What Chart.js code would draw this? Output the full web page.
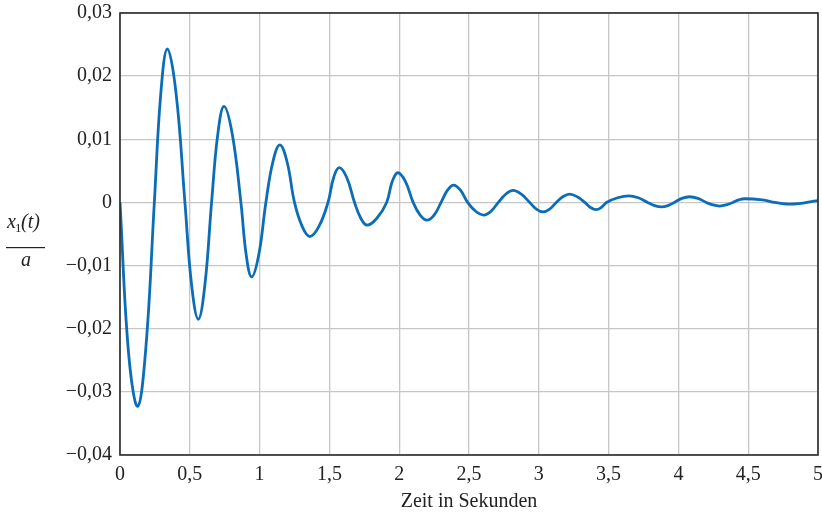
<!DOCTYPE html>
<html>
<head>
<meta charset="utf-8">
<script src="https://cdn.jsdelivr.net/npm/chart.js@4.4.1/dist/chart.umd.min.js"></script>
<style>
  html, body { margin:0; padding:0; background:#fff; }
  #wrap { width:822px; height:515px; position:relative; }
</style>
</head>
<body>
<div id="wrap"><canvas id="c" width="822" height="515"></canvas></div>
<script>
// Zeitpunkte (s) und Werte x1(t)/a
const times = [
  0, 0.062, 0.127, 0.186, 0.246, 0.292, 0.339, 0.402, 0.465, 0.513,
  0.561, 0.608, 0.656, 0.700, 0.745, 0.805, 0.866, 0.904, 0.943, 0.994,
  1.045, 1.095, 1.145, 1.197, 1.25, 1.305, 1.36, 1.425, 1.49, 1.53,
  1.57, 1.625, 1.68, 1.725, 1.77, 1.84, 1.91, 1.95, 1.99, 2.045,
  2.10, 2.15, 2.20, 2.25, 2.30, 2.345, 2.39, 2.44, 2.49, 2.5475,
  2.605, 2.6575, 2.71, 2.7625, 2.815, 2.875, 2.935, 2.9825, 3.03, 3.0775,
  3.125, 3.1725, 3.22, 3.275, 3.33, 3.37, 3.41, 3.4475, 3.485, 3.565,
  3.645, 3.7125, 3.78, 3.83, 3.88, 3.925, 3.97, 4.025, 4.08, 4.14,
  4.20, 4.2475, 4.295, 4.3425, 4.39, 4.4325, 4.475, 4.60, 4.69, 4.745,
  4.80, 4.86, 4.92, 5.0
];
const values = [
  0, -0.024, -0.0323, -0.0228, 0, 0.0172, 0.0243, 0.0172, 0, -0.0131,
  -0.0185, -0.0131, 0, 0.0107, 0.0152, 0.0107, 0, -0.0083, -0.0118, -0.0083,
  0, 0.0064, 0.0091, 0.0064, 0, -0.0038, -0.0054, -0.0038, 0, 0.0039,
  0.0055, 0.0039, 0, -0.0025, -0.0036, -0.0025, 0, 0.0033, 0.0047, 0.0033,
  0, -0.002, -0.0028, -0.002, 0, 0.0019, 0.00275, 0.0019, 0, -0.0014,
  -0.002, -0.0014, 0, 0.0013, 0.0019, 0.0013, 0, -0.00105, -0.0015, -0.00105,
  0, 0.0009, 0.0013, 0.0009, 0, -0.0008, -0.00115, -0.0008, 0, 0.00074,
  0.00105, 0.00074, 0, -0.0005, -0.0007, -0.0005, 0, 0.00064, 0.0009, 0.00064,
  0, -0.0004, -0.00057, -0.0004, 0, 0.0004, 0.00058, 0.0004, 0, -0.0002,
  -0.00028, -0.0002, 0, 0.0003
];
const xTickLabels = ['0','0,5','1','1,5','2','2,5','3','3,5','4','4,5','5'];
const yTickLabels = ['\u22120,04','\u22120,03','\u22120,02','\u22120,01','0','0,01','0,02','0,03'];

const serif = 'Liberation Serif';
const ink = '#222';

// Rahmen + Bruch als y-Beschriftung
const frameAndLabel = {
  id: 'frameAndLabel',
  afterDatasetsDraw(chart) {
    const { ctx, chartArea: a } = chart;
    ctx.save();
    ctx.strokeStyle = '#2a2a2a';
    ctx.lineWidth = 1.6;
    ctx.strokeRect(a.left, a.top, a.right - a.left, a.bottom - a.top);

    ctx.fillStyle = ink;
    ctx.textBaseline = 'alphabetic';
    ctx.textAlign = 'left';
    ctx.font = 'italic 20px "' + serif + '"';
    ctx.fillText('x', 7, 228);
    ctx.font = '13px "' + serif + '"';
    ctx.fillText('1', 15, 232);
    ctx.font = 'italic 20px "' + serif + '"';
    ctx.fillText('(t)', 21, 228);
    ctx.fillRect(6, 247, 39, 1.2);
    ctx.textAlign = 'center';
    ctx.fillText('a', 26, 266);
    ctx.restore();
  }
};

new Chart(document.getElementById('c'), {
  type: 'line',
  data: {
    datasets: [{
      data: times.map((t, i) => ({ x: t, y: values[i] })),
      borderColor: '#0b6db6',
      borderWidth: 2.8,
      pointRadius: 0,
      tension: 0.4,
      fill: false
    }]
  },
  options: {
    responsive: false,
    animation: false,
    layout: { padding: { left: 0, right: 4, top: 13, bottom: 0 } },
    plugins: { legend: { display: false }, tooltip: { enabled: false } },
    scales: {
      x: {
        type: 'linear', min: 0, max: 5,
        ticks: { stepSize: 0.5, padding: 8, color: ink, maxRotation: 0,
                 font: { family: serif, size: 20 },
                 callback: (v, i) => xTickLabels[i] },
        grid: { color: '#c6c6c6', lineWidth: 1.3, drawTicks: false },
        border: { display: false },
        title: { display: true, text: 'Zeit in Sekunden', color: ink,
                 font: { family: serif, size: 20 }, padding: { top: 0, bottom: 1 } },
        afterFit: s => { s.height = 60; s.paddingLeft = 0; s.paddingRight = 0; }
      },
      y: {
        type: 'linear', min: -0.04, max: 0.03,
        ticks: { stepSize: 0.01, padding: 8, color: ink,
                 font: { family: serif, size: 20 },
                 callback: (v, i) => yTickLabels[i] },
        grid: { color: '#c6c6c6', lineWidth: 1.3, drawTicks: false },
        border: { display: false },
        afterFit: s => { s.width = 120; s.paddingTop = 0; s.paddingBottom = 0; }
      }
    }
  },
  plugins: [frameAndLabel]
});
</script>
</body>
</html>
